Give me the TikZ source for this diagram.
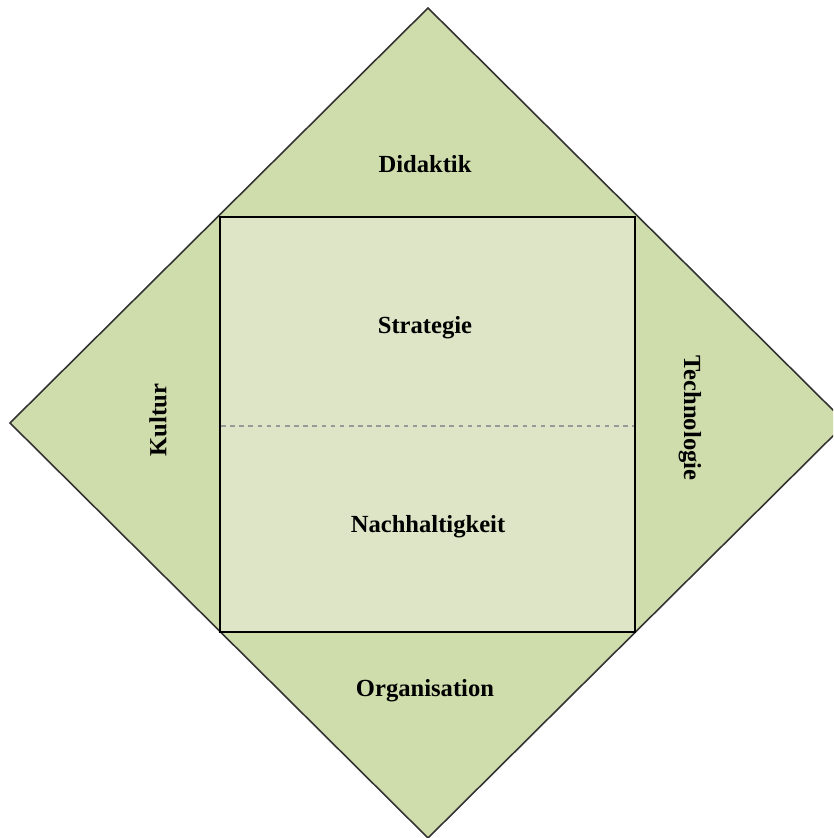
\documentclass[tikz,border=0pt]{standalone}
\usepackage{fontspec}
\setmainfont{Liberation Serif}
\usepackage{tikz}

\definecolor{outergreen}{RGB}{207,220,171}
\definecolor{innergreen}{RGB}{221,229,198}
\tikzset{
  label/.style={font=\fontsize{7}{8.4}\selectfont\bfseries, align=center},
}

\begin{document}
\begin{tikzpicture}
	\useasboundingbox (0,0) rectangle (8.33,8.38);
	\clip (0,0) rectangle (8.33,8.38);
	\draw[fill=outergreen, draw=black!80, line width=0.45pt] (4.28,8.30) -- (8.46,4.15) -- (4.28,0) -- (0.10,4.15) -- cycle;
	\draw[fill=innergreen, draw=black, line width=0.4pt] (2.20,2.06) rectangle (6.35,6.21);
	\draw[draw=gray!80, line width=0.7pt, dash pattern=on 1.3pt off 1.3pt] (2.21,4.12) -- (6.34,4.12);
	\node[label] (didaktik) at (4.25,6.74) {Didaktik};
	\node[label] (strategie) at (4.25,5.10) {Strategie};
	\node[label] (nachhaltigkeit) at (4.28,3.11) {Nachhaltigkeit};
	\node[label] (organisation) at (4.25,1.47) {Organisation};
	\node[label, rotate=90] (kultur) at (1.58,4.18) {Kultur};
	\node[label, rotate=-90] (technologie) at (6.90,4.20) {Technologie};
\end{tikzpicture}
\end{document}
